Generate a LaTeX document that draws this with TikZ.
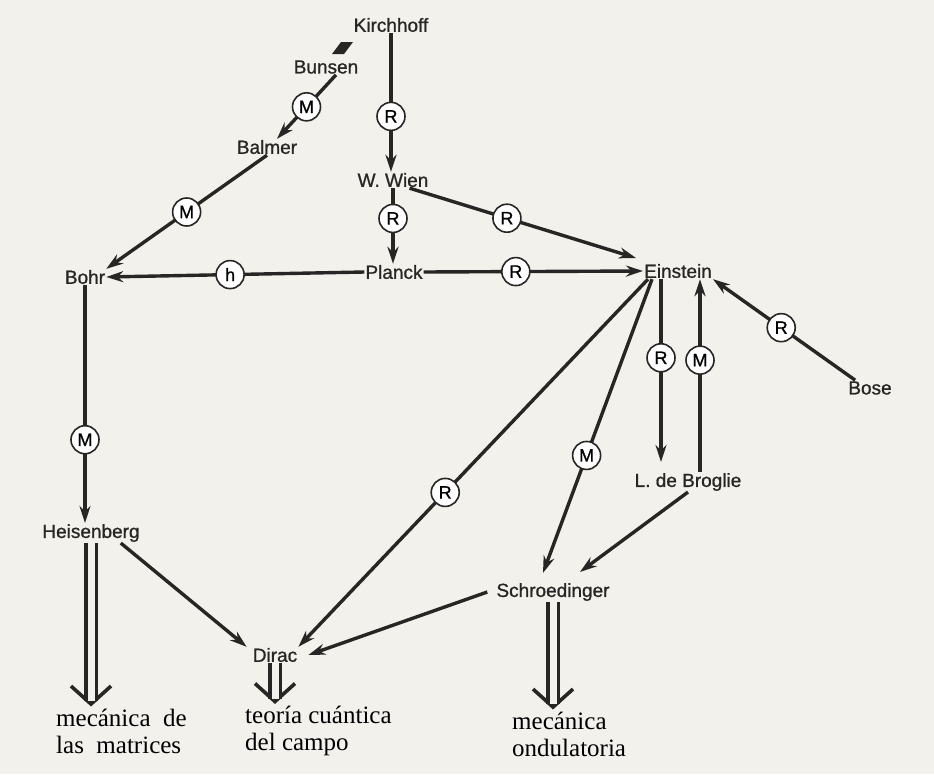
\documentclass[tikz,border=0pt]{standalone}
\usepackage{fontspec}
\setmainfont{Liberation Serif}
\setsansfont{Liberation Sans}[FakeBold=0.9]
\usetikzlibrary{arrows.meta}
\definecolor{paper}{RGB}{243,241,236}
\definecolor{ink}{RGB}{40,38,36}

\begin{document}
\begin{tikzpicture}[x=1pt,y=-1pt,
  person/.style={font=\sffamily\fontsize{19}{21}\selectfont, text=ink, inner sep=1pt},
  rel/.style={circle, draw=ink, fill=white, line width=1.6pt, minimum size=28pt, inner sep=0pt, font=\sffamily\fontsize{18}{18}\selectfont},
  infl/.style={draw=ink, line width=3.4pt, -{Stealth[length=17pt,width=11pt]}},
  school/.style={font=\fontsize{25}{27}\selectfont, align=left, inner sep=0pt, anchor=west},
  leads/.style={draw=ink, line width=3.4pt, double=paper, double distance=7pt},
  vhead/.style={draw=ink, line width=3.6pt, -{Straight Barb[length=18pt,width=40pt]}}]

  % page
  \fill[paper] (0,0) rectangle (934,774);
  \useasboundingbox (0,0) rectangle (934,774);

  % physicists
  \node[person] (kirchhoff) at (391,25) {Kirchhoff};
  \node[person] (bunsen) at (326,67) {Bunsen};
  \node[person] (balmer) at (267,147) {Balmer};
  \node[person] (wien) at (393,180) {W. Wien};
  \node[person] (planck) at (394,272) {Planck};
  \node[person] (bohr) at (85,277) {Bohr};
  \node[person] (einstein) at (678,271) {Einstein};
  \node[person] (bose) at (870,388) {Bose};
  \node[person] (broglie) at (688,482) {L. de Broglie};
  \node[person] (heisenberg) at (91,533) {Heisenberg};
  \node[person] (schroed) at (553,592) {Schroedinger};
  \node[person] (dirac) at (275,655) {Dirac};
  \fill[ink] (341,42) -- (353,42) -- (344,54) -- (332,54) -- cycle;

  % theories
  \node[school] (matrices) at (56,731) {mecánica \ de\\las \ matrices};
  \node[school] (campo) at (245,731) {teoría cuántica\\del campo};
  \node[school] (onda) at (512,734) {mecánica\\ondulatoria};
  \coordinate (mtip) at ([yshift=2pt]heisenberg.south |- matrices.north);
  \coordinate (ctip) at ([yshift=2pt]dirac.south |- campo.north);
  \coordinate (otip) at ([yshift=2pt]schroed.south |- onda.north);

  % influences
  \draw[infl] (kirchhoff.south) -- node[rel, pos=0.6] {R} (kirchhoff.south |- wien.north);
  \draw[infl] ([xshift=10pt]bunsen.south) -- node[rel] {M} ([xshift=10pt]balmer.north);
  \draw[infl] (balmer.south) -- node[rel] {M} (bohr.north east);
  \draw[infl] (wien.south) -- node[rel, pos=0.4] {R} (wien.south |- planck.north);
  \draw[infl] ([xshift=-20pt]wien.south east) -- node[rel, pos=0.43] {R} ([xshift=-7pt,yshift=13pt]einstein.west);
  \draw[infl] (planck.west) -- node[rel, pos=0.52] {h} (bohr.east);
  \draw[infl] (planck.east) -- node[rel, pos=0.42] {R} (einstein.west);
  \draw[infl] ([xshift=-17pt]einstein.south) -- node[rel, pos=0.43] {R} ([xshift=-27pt,yshift=10pt]broglie.north);
  \draw[infl] ([xshift=12pt]broglie.north) -- node[rel, pos=0.58] {M} ([xshift=12pt]broglie.north |- einstein.south);
  \draw[infl] ([xshift=8pt]bose.north west) -- node[rel, pos=0.52] {R} (einstein.south east);
  \draw[infl] (bohr.south) -- node[rel, pos=0.65] {M} (bohr.south |- heisenberg.north);
  \draw[infl] ([xshift=-26pt]einstein.south) -- node[rel, pos=0.6] {M} ([xshift=-10pt,yshift=9pt]schroed.north);
  \draw[infl] ([xshift=-30pt]einstein.south) -- node[rel, pos=0.58] {R} (dirac.north east);
  \draw[infl] (broglie.south) -- ([xshift=27pt,yshift=10pt]schroed.north);
  \draw[infl] ([xshift=-8pt]schroed.west) -- ([xshift=10pt]dirac.east);
  \draw[infl] ([xshift=-20pt]heisenberg.south east) -- ([xshift=-5pt]dirac.north west);

  % results
  \draw[vhead] ([yshift=24pt]mtip) -- (mtip);
  \draw[leads] (heisenberg.south) -- ([yshift=5pt]mtip);
  \draw[vhead] ([yshift=24pt]ctip) -- (ctip);
  \draw[leads] (dirac.south) -- ([yshift=5pt]ctip);
  \draw[vhead] ([yshift=24pt]otip) -- (otip);
  \draw[leads] (schroed.south) -- ([yshift=5pt]otip);
\end{tikzpicture}
\end{document}
